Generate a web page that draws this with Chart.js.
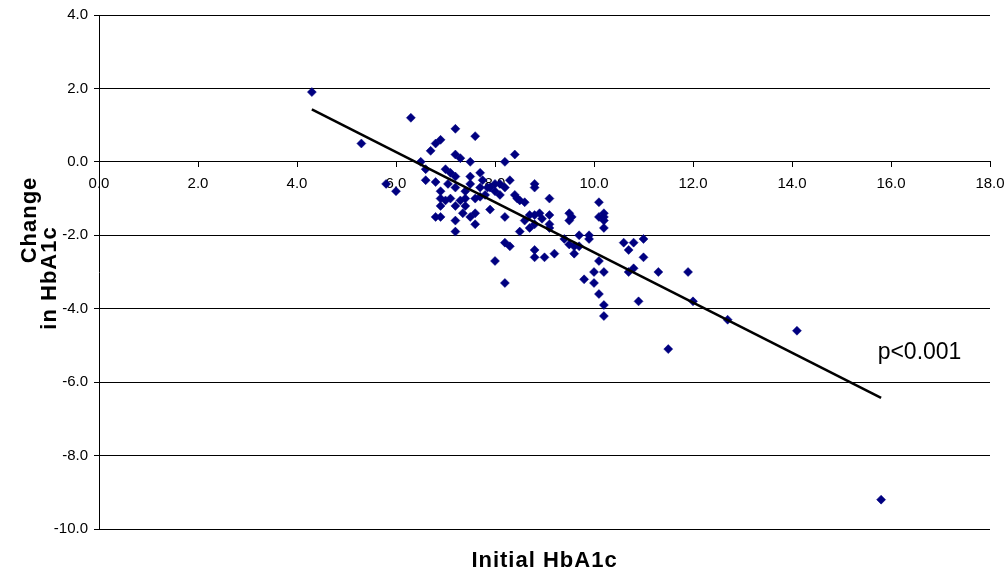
<!DOCTYPE html>
<html>
<head>
<meta charset="utf-8">
<script src="https://cdn.jsdelivr.net/npm/chart.js@4"></script>
<style>
  html, body { margin: 0; padding: 0; background: #fff; }
  #wrap { width: 1006px; height: 571px; }
</style>
</head>
<body>
<div id="wrap"><canvas id="hba1cChart"></canvas></div>
<script>
// initial HbA1c (x) and change in HbA1c (y)
const initialA1c = [
  4.3, 5.3, 5.8, 6.0, 6.3,
  7.2, 7.6, 6.9, 6.8, 6.7, 7.2, 7.3, 7.5, 6.5,
  6.6, 7.0, 7.1, 7.2, 7.7, 7.5,
  6.6, 6.8, 7.05, 7.5, 7.75, 7.7,
  6.9, 7.2, 7.4, 7.9, 8.0,
  6.9, 7.0, 7.1, 7.3, 7.4, 7.6, 7.7, 7.8,
  6.9, 7.2, 7.4, 7.6, 7.35, 7.9,
  6.8, 6.9, 7.2, 7.5, 7.6, 7.2, 8.0,
  8.2, 8.4, 8.3, 8.8, 8.8, 8.0, 8.1, 7.85,
  8.1, 8.2, 8.4, 8.45, 8.5, 8.6, 9.1,
  8.2, 8.6, 8.7, 8.8, 8.9, 8.95, 8.8, 9.1, 9.1, 9.1, 8.5, 8.7,
  8.2, 8.3, 8.8, 8.8, 9.0, 9.2, 8.2,
  9.5, 9.55, 9.5, 9.7, 9.9, 9.9, 9.4, 9.5, 9.6, 9.7, 9.6,
  9.8, 10.0, 10.0, 10.2, 10.1, 10.2, 10.2, 10.1,
  10.1, 10.1, 10.2, 10.2, 10.2, 10.2,
  10.6, 10.8, 11.0, 10.7, 11.0, 10.8, 10.7, 11.3, 11.9,
  10.9, 12.0, 12.7, 14.1, 11.5, 15.8
];
const changeA1c = [
  1.9, 0.5, -0.6, -0.8, 1.2,
  0.9, 0.7, 0.6, 0.5, 0.3, 0.2, 0.1, 0.0, 0.0,
  -0.2, -0.2, -0.3, -0.4, -0.3, -0.4,
  -0.5, -0.55, -0.6, -0.6, -0.5, -0.7,
  -0.8, -0.7, -0.8, -0.7, -0.8,
  -1.0, -1.05, -1.0, -1.05, -1.0, -1.0, -0.95, -0.9,
  -1.2, -1.2, -1.2, -1.4, -1.4, -1.3,
  -1.5, -1.5, -1.6, -1.5, -1.7, -1.9, -2.7,
  0.0, 0.2, -0.5, -0.6, -0.7, -0.6, -0.6, -0.7,
  -0.9, -0.7, -0.9, -1.0, -1.05, -1.1, -1.0,
  -1.5, -1.6, -1.45, -1.45, -1.4, -1.55, -1.7, -1.45, -1.7, -1.8, -1.9, -1.8,
  -2.2, -2.3, -2.4, -2.6, -2.6, -2.5, -3.3,
  -1.4, -1.5, -1.6, -2.0, -2.0, -2.1, -2.1, -2.25, -2.3, -2.3, -2.5,
  -3.2, -3.0, -3.3, -3.0, -3.6, -3.9, -4.2, -2.7,
  -1.1, -1.5, -1.4, -1.5, -1.6, -1.8,
  -2.2, -2.2, -2.1, -2.4, -2.6, -2.9, -3.0, -3.0, -3.0,
  -3.8, -3.8, -4.3, -4.6, -5.1, -9.2
];

// fitted regression line end points
const trendX = [4.3, 15.8];
const trendY = [1.43, -6.43];

const pLabel = "p<0.001";
const xTitle = "Initial HbA1c";
const yTitle = ["Change", "in HbA1c"];

const points = initialA1c.map((x, i) => ({ x: x, y: changeA1c[i] }));
const trend = trendX.map((x, i) => ({ x: x, y: trendY[i] }));

const FONT = "'Liberation Sans', Arial, sans-serif";

// p value note plus the two axis titles (drawn by hand so they sit like the original)
const labelsPlugin = {
  id: "labels",
  afterDraw(chart) {
    const { ctx, scales, chartArea } = chart;
    ctx.save();
    ctx.fillStyle = "#000";
    ctx.textBaseline = "middle";

    ctx.font = "23px " + FONT;
    ctx.textAlign = "left";
    ctx.fillText(pLabel, scales.x.getPixelForValue(15.73), scales.y.getPixelForValue(-5.2));

    ctx.font = "bold 22px " + FONT;
    ctx.textAlign = "center";
    ctx.letterSpacing = "1px";
    ctx.fillText(xTitle, (chartArea.left + chartArea.right) / 2, 561);

    ctx.translate(30, 220);
    ctx.rotate(-Math.PI / 2);
    ctx.fillText(yTitle[0], 0, 0);
    ctx.rotate(Math.PI / 2);
    ctx.translate(20, 58);
    ctx.rotate(-Math.PI / 2);
    ctx.fillText(yTitle[1], 0, 0);
    ctx.restore();
  }
};

const tickFont = { family: FONT, size: 15 };

new Chart(document.getElementById("hba1cChart").getContext("2d"), {
  type: "scatter",
  data: {
    datasets: [
      {
        label: "HbA1c",
        data: points,
        pointStyle: "rectRot",
        pointRadius: 4.5,
        backgroundColor: "#000080",
        borderColor: "#000080",
        borderWidth: 0.5,
        order: 2
      },
      {
        type: "line",
        label: "Trend",
        data: trend,
        borderColor: "#000",
        borderWidth: 2.5,
        pointRadius: 0,
        fill: false,
        order: 1
      }
    ]
  },
  options: {
    responsive: true,
    maintainAspectRatio: false,
    animation: false,
    layout: { padding: { left: 0, right: 16, top: 14, bottom: 42 } },
    plugins: {
      legend: { display: false },
      tooltip: { enabled: false }
    },
    scales: {
      x: {
        type: "linear",
        position: { y: 0 },
        min: 0,
        max: 18,
        // let the end labels overhang instead of shrinking the plot
        afterFit: scale => { scale.paddingLeft = 0; scale.paddingRight = 0; },
        ticks: {
          stepSize: 2,
          padding: 8,
          color: "#000",
          font: tickFont,
          maxRotation: 0,
          callback: v => v.toFixed(1)
        },
        grid: { drawOnChartArea: false, color: "#000", tickLength: 5 },
        border: { color: "#000", width: 1 }
      },
      y: {
        type: "linear",
        min: -10,
        max: 4,
        afterFit: scale => { scale.width = 99; },
        ticks: {
          stepSize: 2,
          padding: 6,
          color: "#000",
          font: tickFont,
          callback: v => v.toFixed(1)
        },
        grid: { color: "#000", tickLength: 5 },
        border: { color: "#000", width: 1 }
      }
    }
  },
  plugins: [labelsPlugin]
});
</script>
</body>
</html>
